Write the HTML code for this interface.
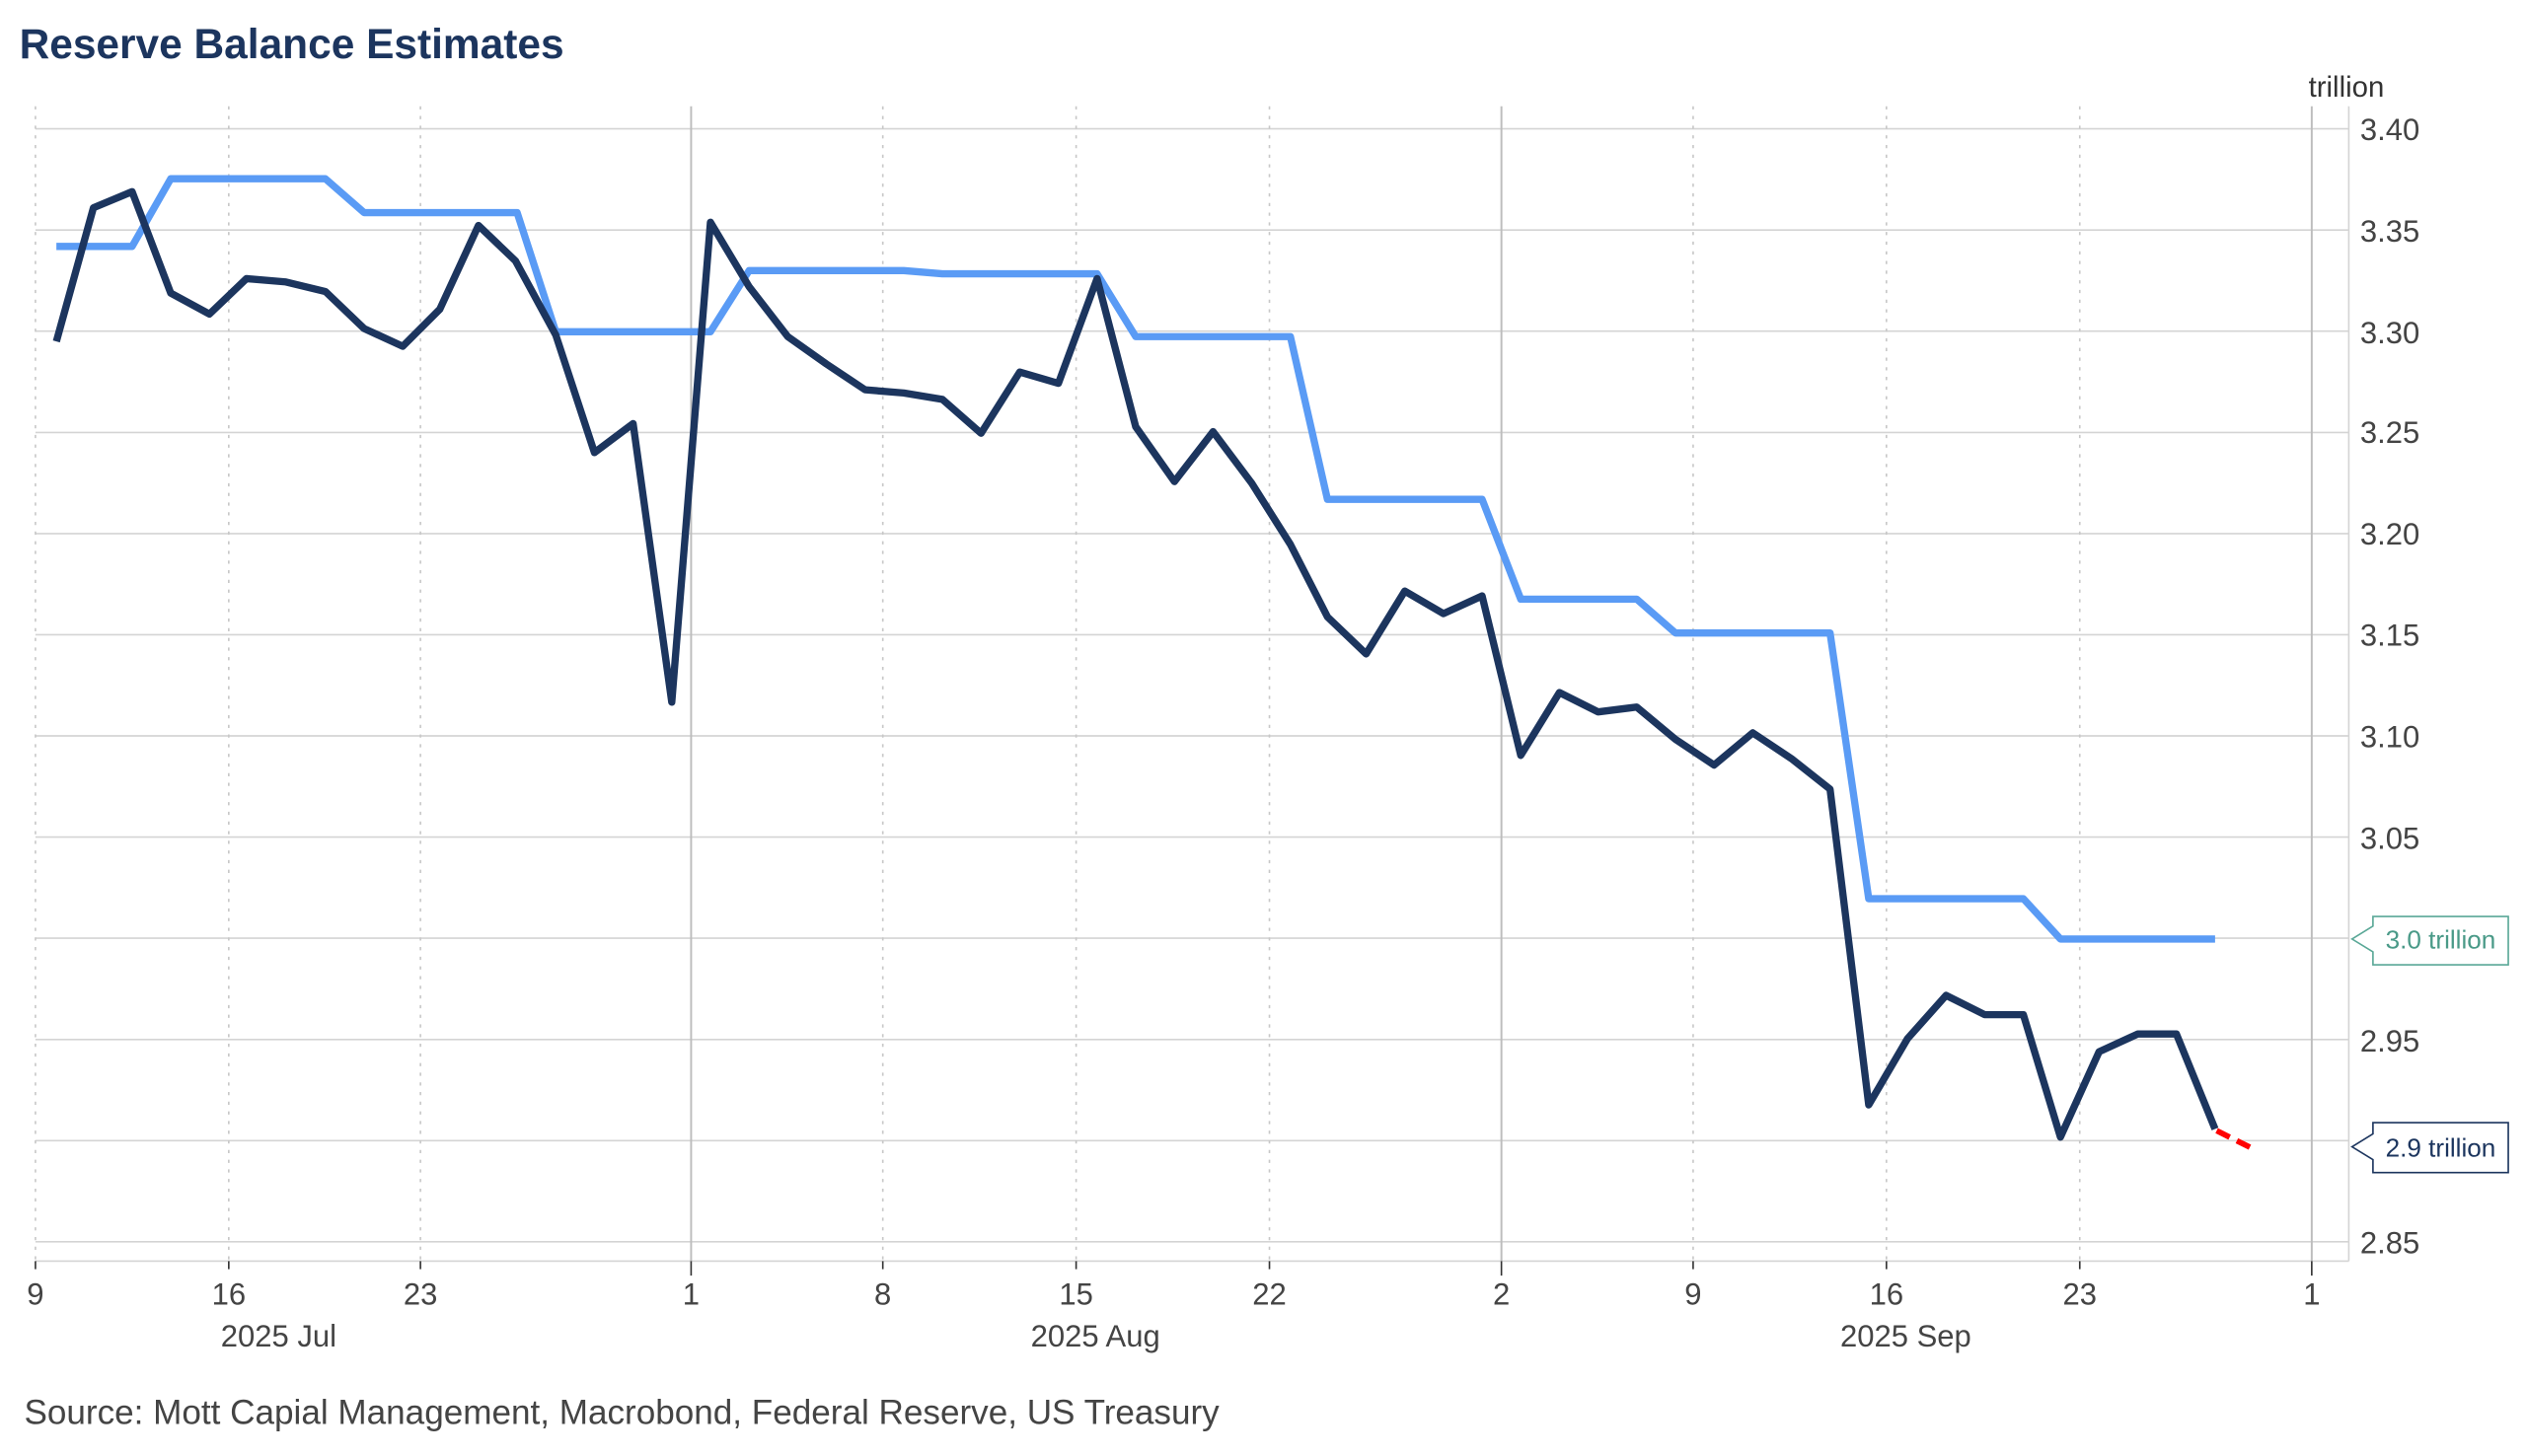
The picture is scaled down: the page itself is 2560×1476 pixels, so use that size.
<!DOCTYPE html>
<html><head><meta charset="utf-8"><style>html,body{margin:0;padding:0;background:#fff}svg{display:block}</style></head>
<body>
<svg width="2560" height="1476" viewBox="0 0 1568 904" preserveAspectRatio="none" xmlns="http://www.w3.org/2000/svg" font-family="Liberation Sans, sans-serif">
<rect width="1568" height="904" fill="#fff"/>
<text x="12" y="36" font-size="26" font-weight="bold" fill="#1c355e">Reserve Balance Estimates</text>
<text x="1433" y="60" font-size="18" fill="#333">trillion</text>
<g stroke="#d4d4d4" stroke-width="1">
<line x1="22" x2="1458" y1="80" y2="80"/><line x1="22" x2="1458" y1="142.8" y2="142.8"/><line x1="22" x2="1458" y1="205.6" y2="205.6"/><line x1="22" x2="1458" y1="268.5" y2="268.5"/><line x1="22" x2="1458" y1="331.3" y2="331.3"/><line x1="22" x2="1458" y1="394.1" y2="394.1"/><line x1="22" x2="1458" y1="456.9" y2="456.9"/><line x1="22" x2="1458" y1="519.7" y2="519.7"/><line x1="22" x2="1458" y1="582.5" y2="582.5"/><line x1="22" x2="1458" y1="645.4" y2="645.4"/><line x1="22" x2="1458" y1="708.2" y2="708.2"/><line x1="22" x2="1458" y1="771" y2="771"/>
<line x1="22" x2="1458" y1="783" y2="783"/>
<line x1="1458" x2="1458" y1="66" y2="783"/>
</g>
<g stroke="#c8c8c8" stroke-width="1" stroke-dasharray="2,4">
<line x1="22" x2="22" y1="66" y2="783"/><line x1="142" x2="142" y1="66" y2="783"/><line x1="261" x2="261" y1="66" y2="783"/><line x1="548" x2="548" y1="66" y2="783"/><line x1="668" x2="668" y1="66" y2="783"/><line x1="788" x2="788" y1="66" y2="783"/><line x1="1051" x2="1051" y1="66" y2="783"/><line x1="1171" x2="1171" y1="66" y2="783"/><line x1="1291" x2="1291" y1="66" y2="783"/>
</g>
<g stroke="#bdbdbd" stroke-width="1.2">
<line x1="429" x2="429" y1="66" y2="783"/><line x1="932" x2="932" y1="66" y2="783"/><line x1="1435" x2="1435" y1="66" y2="783"/>
</g>
<g stroke="#333" stroke-width="1">
<line x1="22" x2="22" y1="783" y2="788"/><line x1="142" x2="142" y1="783" y2="788"/><line x1="261" x2="261" y1="783" y2="788"/><line x1="429" x2="429" y1="783" y2="792"/><line x1="548" x2="548" y1="783" y2="788"/><line x1="668" x2="668" y1="783" y2="788"/><line x1="788" x2="788" y1="783" y2="788"/><line x1="932" x2="932" y1="783" y2="792"/><line x1="1051" x2="1051" y1="783" y2="788"/><line x1="1171" x2="1171" y1="783" y2="788"/><line x1="1291" x2="1291" y1="783" y2="788"/><line x1="1435" x2="1435" y1="783" y2="792"/>
</g>
<g font-size="19" fill="#444">
<text x="1465" y="87">3.40</text><text x="1465" y="150">3.35</text><text x="1465" y="213">3.30</text><text x="1465" y="275">3.25</text><text x="1465" y="338">3.20</text><text x="1465" y="401">3.15</text><text x="1465" y="464">3.10</text><text x="1465" y="527">3.05</text><text x="1465" y="653">2.95</text><text x="1465" y="778">2.85</text>
</g>
<g font-size="19" fill="#444" text-anchor="middle">
<text x="22" y="810">9</text><text x="142" y="810">16</text><text x="261" y="810">23</text><text x="429" y="810">1</text><text x="548" y="810">8</text><text x="668" y="810">15</text><text x="788" y="810">22</text><text x="932" y="810">2</text><text x="1051" y="810">9</text><text x="1171" y="810">16</text><text x="1291" y="810">23</text><text x="1435" y="810">1</text>
<text x="173" y="836">2025 Jul</text><text x="680" y="836">2025 Aug</text><text x="1183" y="836">2025 Sep</text>
</g>
<text x="15" y="884" font-size="21.5" fill="#444">Source: Mott Capial Management, Macrobond, Federal Reserve, US Treasury</text>
<polyline fill="none" stroke="#5a9bf5" stroke-width="4.5" stroke-linejoin="round" points="35,153 82,153 106,111 202,111 226,132 321,132 345,206 441,206 465,168 561,168 585,170 681,170 705,209 801,209 824,310 920,310 944,372 1016,372 1040,393 1136,393 1160,558 1256,558 1279,583 1375,583"/>
<polyline fill="none" stroke="#1c355e" stroke-width="4.5" stroke-linejoin="round" points="35,212 58,129 82,119 106,182 130,195 153,173 177,175 202,181 226,204 250,215 273,192 297,140 320,162 345,208 369,281 393,263 417,436 441,138 465,178 489,209 513,226 537,242 561,244 585,248 609,269 633,231 657,238 681,173 705,265 729,299 753,268 777,300 801,338 824,383 848,406 872,367 896,381 920,370 944,469 968,430 992,442 1016,439 1040,459 1064,475 1088,455 1112,471 1136,490 1160,686 1184,645 1208,618 1232,630 1256,630 1279,706 1303,653 1327,642 1351,642 1375,701"/>
<line x1="1376" y1="702" x2="1398" y2="713" stroke="#ff0000" stroke-width="3.5" stroke-dasharray="9,5"/>
<path d="M1460,583 L1473,575 L1473,569 L1557,569 L1557,599 L1473,599 L1473,591 Z" fill="#fff" stroke="#5aa897" stroke-width="1"/>
<text x="1515" y="589" font-size="16" fill="#4a9a88" text-anchor="middle">3.0 trillion</text>
<path d="M1460,712 L1473,704 L1473,697 L1557,697 L1557,728 L1473,728 L1473,720 Z" fill="#fff" stroke="#1c355e" stroke-width="1"/>
<text x="1515" y="718" font-size="16" fill="#1c355e" text-anchor="middle">2.9 trillion</text>
</svg>
</body></html>
